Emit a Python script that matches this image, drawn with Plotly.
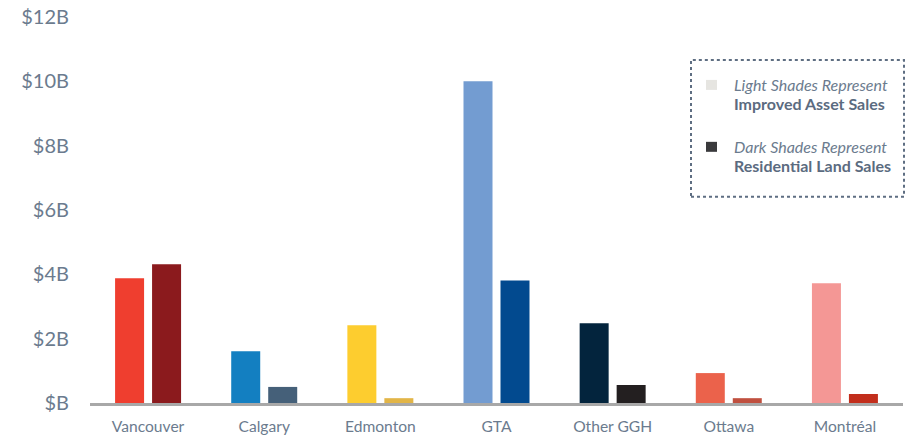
import plotly.graph_objects as go

categories = ["Vancouver", "Calgary", "Edmonton", "GTA", "Other GGH", "Ottawa", "Montréal"]
improved_asset_sales = [3.88, 1.61, 2.42, 10.0, 2.48, 0.93, 3.72]
residential_land_sales = [4.31, 0.50, 0.15, 3.81, 0.56, 0.15, 0.28]
light_colors = ["#EF3E2F", "#137FC1", "#FDCD2F", "#739CD1", "#03243D", "#EB624B", "#F49795"]
dark_colors = ["#8B1A1D", "#456079", "#E2B547", "#024A8F", "#231F20", "#C0503F", "#C22E1C"]
tick_vals = [0, 2, 4, 6, 8, 10, 12]
tick_text = ["$B", "$2B", "$4B", "$6B", "$8B", "$10B", "$12B"]

FONT = "Lato, 'Open Sans', sans-serif"
TXT = "#6B7B8E"

fig = go.Figure()
fig.add_trace(go.Bar(x=categories, y=improved_asset_sales, marker=dict(color=light_colors, line_width=0),
                     name="Improved Asset Sales", showlegend=False))
fig.add_trace(go.Bar(x=categories, y=residential_land_sales, marker=dict(color=dark_colors, line_width=0),
                     name="Residential Land Sales", showlegend=False))

fig.update_layout(
    width=911, height=437,
    margin=dict(l=90, r=8, t=17, b=33.5),
    plot_bgcolor="white", paper_bgcolor="white",
    barmode="group", bargap=0.363, bargroupgap=0.216,
    font=dict(family=FONT, color=TXT),
    xaxis=dict(showline=True, linecolor="#A8A8A8", linewidth=3, ticks="", showgrid=False,
               tickfont=dict(size=15.6, color=TXT), ticklabelstandoff=7, automargin=False),
    yaxis=dict(range=[0, 12], tickvals=tick_vals, ticktext=tick_text, showgrid=False,
               zeroline=False, showline=False, ticks="", tickfont=dict(size=20, color=TXT),
               ticklabelstandoff=20, automargin=False, ticklabeloverflow="allow"),
)

# Legend box (dotted border); positions in pixels relative to the plot area (x 90-903, y 17-403.5)
def px(x):
    return (x - 90) / 813

def py(y):
    return (403.5 - y) / 386.5

fig.add_shape(type="rect", xref="paper", yref="paper",
              x0=px(691), x1=px(904), y0=py(197), y1=py(60),
              line=dict(color="#5E6E82", width=2, dash="dot"))
legend_items = [
    ("#E6E5E1", "Light Shades Represent", "Improved Asset Sales", 85),
    ("#3A3A3C", "Dark Shades Represent", "Residential Land Sales", 147),
]
for color, l1, l2, ypix in legend_items:
    fig.add_shape(type="rect", xref="paper", yref="paper",
                  x0=px(706), x1=px(717), y0=py(ypix + 5), y1=py(ypix - 5),
                  fillcolor=color, line_width=0)
    fig.add_annotation(xref="paper", yref="paper", x=px(732), y=py(ypix),
                       xanchor="left", yanchor="middle", showarrow=False,
                       text=f"<i>{l1}</i>", font=dict(size=16, color=TXT, family=FONT))
    fig.add_annotation(xref="paper", yref="paper", x=px(732), y=py(ypix + 19),
                       xanchor="left", yanchor="middle", showarrow=False,
                       text=f"<b>{l2}</b>", font=dict(size=16, color="#5B6B7F", family=FONT))

# Remove the browser's default 8px body margin so the 911x437 figure fills the window.
fig.write_html("out.html", config={"displayModeBar": False},
               post_script="document.body.style.margin='0';document.body.style.overflow='hidden';")
